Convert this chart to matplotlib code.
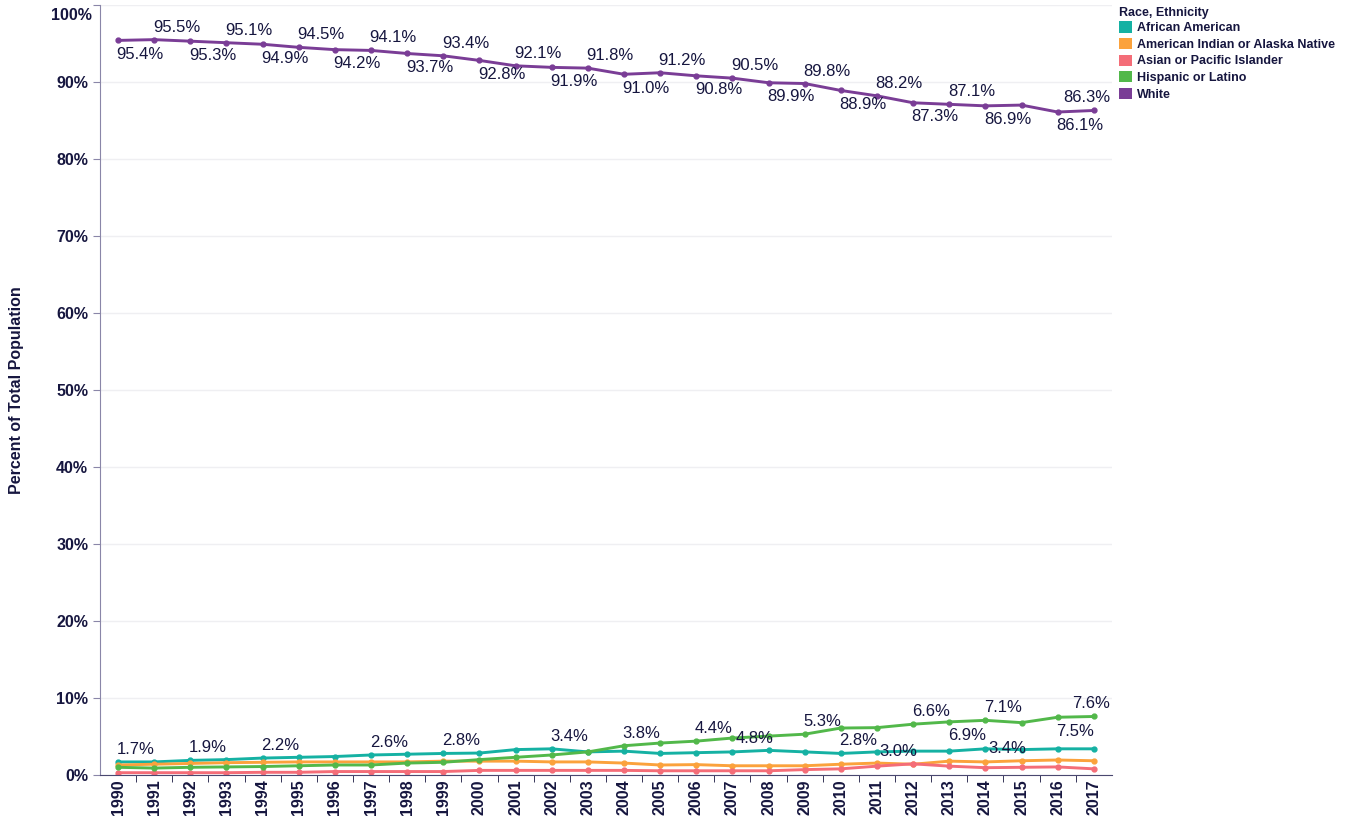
import numpy as np
import matplotlib
matplotlib.use('Agg')
import matplotlib.pyplot as plt
from matplotlib.patches import Patch
from matplotlib.ticker import FixedLocator, FixedFormatter

plt.rcParams['font.family'] = ['Liberation Sans', 'DejaVu Sans']

years = list(range(1990, 2018))

african_american = [1.7, 1.7, 1.9, 2.0, 2.2, 2.3, 2.4, 2.6, 2.7, 2.8, 2.85, 3.3, 3.4, 3.0,
                    3.1, 2.8, 2.9, 3.0, 3.2, 3.0, 2.8, 3.0, 3.1, 3.1, 3.4, 3.3, 3.4, 3.4]
american_indian = [1.3, 1.4, 1.5, 1.6, 1.65, 1.7, 1.7, 1.7, 1.7, 1.8, 1.8, 1.8, 1.7, 1.7,
                   1.55, 1.3, 1.35, 1.2, 1.2, 1.2, 1.4, 1.55, 1.4, 1.8, 1.7, 1.85, 1.95, 1.85]
asian_pacific = [0.3, 0.3, 0.3, 0.3, 0.35, 0.35, 0.45, 0.45, 0.45, 0.45, 0.6, 0.6, 0.6, 0.6,
                 0.6, 0.55, 0.55, 0.55, 0.55, 0.7, 0.8, 1.15, 1.45, 1.15, 0.95, 1.0, 1.05, 0.8]
hispanic = [1.0, 0.9, 1.0, 1.05, 1.1, 1.2, 1.3, 1.3, 1.55, 1.65, 2.0, 2.3, 2.6, 3.0,
            3.8, 4.15, 4.4, 4.8, 5.05, 5.3, 6.1, 6.15, 6.6, 6.9, 7.1, 6.8, 7.5, 7.6]
white = [95.4, 95.5, 95.3, 95.1, 94.9, 94.5, 94.2, 94.1, 93.7, 93.4, 92.8, 92.1, 91.9, 91.8,
         91.0, 91.2, 90.8, 90.5, 89.9, 89.8, 88.9, 88.2, 87.3, 87.1, 86.9, 87.0, 86.1, 86.3]

series_names = ['African American', 'American Indian or Alaska Native',
                'Asian or Pacific Islander', 'Hispanic or Latino', 'White']
series_values = [african_american, american_indian, asian_pacific, hispanic, white]
colors = ['#15b1a3', '#fba23c', '#f46d78', '#52b84a', '#7a3d96']

y_ticks = list(range(0, 101, 10))
y_tick_labels = [f'{t}%' for t in y_ticks]

# labels shown on the chart: (series index, year, placement)
white_labels = [(4, y, 'below' if i % 2 == 0 else 'above')
                for i, y in enumerate(years) if y not in (2015, 2017)] + [(4, 2017, 'end')]
other_labels = [(0, 1990, 'above'), (0, 1992, 'above'), (0, 1994, 'above'),
                (0, 1997, 'above'), (0, 1999, 'above'), (0, 2002, 'above'),
                (0, 2010, 'above'), (0, 2011, 'right'), (0, 2014, 'right'),
                (3, 2004, 'above'), (3, 2006, 'above'), (3, 2007, 'right'),
                (3, 2009, 'above'), (3, 2012, 'above'), (3, 2013, 'below'),
                (3, 2014, 'above'), (3, 2016, 'below'), (3, 2017, 'end')]

navy = '#16163f'
fig = plt.figure(figsize=(13.51, 8.17), dpi=100)
ax = fig.add_axes([0.074, 0.0514, 0.749, 0.9425])

for name, vals, c in zip(series_names, series_values, colors):
    ax.plot(years, vals, color=c, lw=2.1, marker='o', markersize=3.5, solid_joinstyle='round')

for idx, yr, pos in white_labels + other_labels:
    v = series_values[idx][years.index(yr)]
    txt = f'{v:.1f}%'
    if pos == 'above':
        ax.annotate(txt, (yr, v), xytext=(-1, 9), textcoords='offset points',
                    ha='left', va='center', fontsize=12, color=navy)
    elif pos == 'below':
        ax.annotate(txt, (yr, v), xytext=(-1, -10), textcoords='offset points',
                    ha='left', va='center', fontsize=12, color=navy)
    elif pos == 'right':
        ax.annotate(txt, (yr, v), xytext=(2, 0), textcoords='offset points',
                    ha='left', va='center', fontsize=12, color=navy)
    else:
        ax.annotate(txt, (2017.45, v), xytext=(0, 9), textcoords='offset points',
                    ha='right', va='center', fontsize=12, color=navy)

ax.set_xlim(1989.5, 2017.5)
ax.set_ylim(0, 100)
ax.yaxis.set_major_locator(FixedLocator(y_ticks))
ax.yaxis.set_major_formatter(FixedFormatter(y_tick_labels[:-1] + ['']))
# top label pushed down inside the figure, as in the source
ax.annotate(y_tick_labels[-1], (0, 1), xycoords='axes fraction', xytext=(-8, -11),
            textcoords='offset pixels', ha='right', va='center', fontsize=11.5,
            fontweight='bold', color=navy)
ax.set_xticks(years)
ax.set_xticklabels([str(y) for y in years], rotation=90, fontweight='bold', fontsize=11.5, color=navy)
ax.xaxis.set_minor_locator(FixedLocator(np.arange(1990.5, 2017.5, 1)))
ax.tick_params(axis='x', which='major', length=0, pad=3)
ax.tick_params(axis='x', which='minor', length=5, color=navy)
ax.tick_params(axis='y', length=5, color='#8a86a8', labelsize=11.5, labelcolor=navy)
for t in ax.get_yticklabels():
    t.set_fontweight('bold')

ax.grid(axis='y', color='#efeff2', lw=1)
ax.set_axisbelow(True)
for s in ['top', 'right']:
    ax.spines[s].set_visible(False)
ax.spines['left'].set_color('#8a86a8')
ax.spines['bottom'].set_color('#4a4870')

ax.set_ylabel('Percent of Total Population', fontsize=11.5, fontweight='bold', color=navy)
ax.yaxis.set_label_coords(-0.075, 0.5)

handles = [Patch(facecolor=c, edgecolor='none') for c in colors]
leg = fig.legend(handles, series_names, title='Race, Ethnicity', loc='upper left',
                 bbox_to_anchor=(0.8285, 0.992), frameon=False, fontsize=9,
                 title_fontsize=9, handlelength=1.0, handleheight=1.0,
                 handletextpad=0.45, labelspacing=0.3, borderaxespad=0, borderpad=0)
leg._legend_box.align = 'left'
leg._legend_box.sep = 2
leg.get_title().set_fontweight('bold')
leg.get_title().set_color(navy)
for t in leg.get_texts():
    t.set_fontweight('bold')
    t.set_color(navy)

fig.savefig('out.png', dpi=100)
